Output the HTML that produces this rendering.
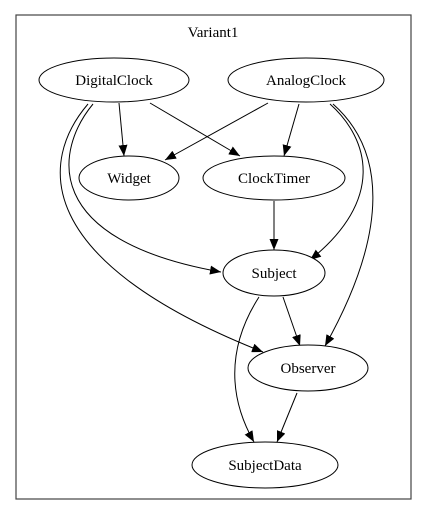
<!DOCTYPE html>
<html><head><meta charset="utf-8"><style>
html,body{margin:0;padding:0;background:#fff;}
svg{display:block}
text{font-family:"Liberation Serif","Times New Roman",Times,serif;font-size:15px;text-anchor:middle;fill:#000}
</style></head><body>
<svg width="427" height="516" viewBox="0 0 427 516" xmlns="http://www.w3.org/2000/svg">
<defs>
<marker id="a" markerWidth="11" markerHeight="9" refX="11" refY="4.5" orient="auto" markerUnits="userSpaceOnUse">
<path d="M0,0 L11,4.5 L0,9 Z" fill="#000"/>
</marker>
</defs>
<rect x="16" y="15" width="395" height="484" fill="#fff" stroke="#444" stroke-width="1.2"/>
<text x="213" y="37" font-family="Liberation Serif, serif">Variant1</text>
<g fill="none" stroke="#000" stroke-width="1" marker-end="url(#a)">
<path d="M119,103 L124,156"/>
<path d="M150,103 L240,156"/>
<path d="M268,103 L165,160"/>
<path d="M299,104 L284,156"/>
<path d="M274,201 L274,250"/>
<path d="M330,104 C370,140 385,200 310,260"/>
<path d="M333,104 C385,150 390,230 325,346"/>
<path d="M93,104 C55,150 40,240 221,272"/>
<path d="M88,104 C40,160 30,260 263,352"/>
<path d="M259,297 C225,350 230,400 254,442"/>
<path d="M283,297 L300,346"/>
<path d="M297,393 L277,442"/>
</g>
<g fill="#fff" stroke="#000" stroke-width="1">
<ellipse cx="114" cy="80" rx="75" ry="22"/>
<ellipse cx="306" cy="80" rx="78" ry="22"/>
<ellipse cx="129" cy="178" rx="50" ry="22"/>
<ellipse cx="274" cy="178" rx="71" ry="22"/>
<ellipse cx="274" cy="273" rx="51" ry="23"/>
<ellipse cx="308" cy="368" rx="60" ry="23"/>
<ellipse cx="265" cy="465" rx="73" ry="23"/>
</g>
<g font-family="Liberation Serif, serif">
<text x="114" y="85">DigitalClock</text>
<text x="306" y="85">AnalogClock</text>
<text x="129" y="183">Widget</text>
<text x="274" y="183">ClockTimer</text>
<text x="274" y="278">Subject</text>
<text x="308" y="373">Observer</text>
<text x="265" y="470">SubjectData</text>
</g>
</svg>
</body></html>
